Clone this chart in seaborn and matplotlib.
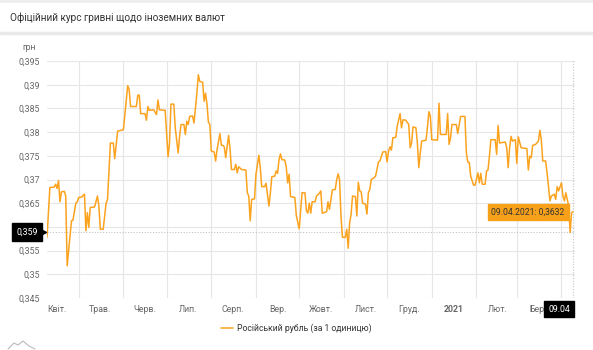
import matplotlib
matplotlib.use("Agg")
import matplotlib.pyplot as plt
import matplotlib.dates as mdates
from matplotlib.ticker import MultipleLocator, FuncFormatter
from matplotlib.lines import Line2D
import pandas as pd
import seaborn as sns

# ---------------- data ----------------
title = "Офіційний курс гривні щодо іноземних валют"
unit_label = "грн"
series_label = "Російський рубль (за 1 одиницю)"

dates = [
    "2020-04-09", "2020-04-11", "2020-04-14", "2020-04-15", "2020-04-16", "2020-04-17", "2020-04-18", "2020-04-19",
    "2020-04-21", "2020-04-22", "2020-04-23", "2020-04-26", "2020-04-27", "2020-04-29", "2020-04-30",
    "2020-05-01", "2020-05-03", "2020-05-05", "2020-05-06", "2020-05-07", "2020-05-08", "2020-05-09", "2020-05-12",
    "2020-05-14", "2020-05-15", "2020-05-16", "2020-05-18", "2020-05-20", "2020-05-21", "2020-05-23", "2020-05-25",
    "2020-05-26", "2020-05-28",
    "2020-06-01", "2020-06-04", "2020-06-05", "2020-06-06", "2020-06-10", "2020-06-11", "2020-06-12", "2020-06-13",
    "2020-06-16", "2020-06-17", "2020-06-18", "2020-06-19", "2020-06-22", "2020-06-24", "2020-06-25", "2020-06-26",
    "2020-06-30",
    "2020-07-02", "2020-07-03", "2020-07-04", "2020-07-06", "2020-07-07", "2020-07-09", "2020-07-10", "2020-07-11",
    "2020-07-13", "2020-07-14", "2020-07-15", "2020-07-16", "2020-07-17", "2020-07-19", "2020-07-20", "2020-07-22",
    "2020-07-23", "2020-07-24", "2020-07-26", "2020-07-27", "2020-07-28", "2020-07-29", "2020-07-30", "2020-07-31",
    "2020-08-01", "2020-08-03", "2020-08-04", "2020-08-05", "2020-08-07", "2020-08-08", "2020-08-09", "2020-08-10",
    "2020-08-11", "2020-08-13", "2020-08-14", "2020-08-15", "2020-08-17", "2020-08-18", "2020-08-19", "2020-08-20",
    "2020-08-22", "2020-08-25", "2020-08-26", "2020-08-27", "2020-08-28", "2020-08-29", "2020-08-31",
    "2020-09-01", "2020-09-03", "2020-09-04", "2020-09-05", "2020-09-07", "2020-09-08", "2020-09-10", "2020-09-11",
    "2020-09-12", "2020-09-14", "2020-09-15", "2020-09-16", "2020-09-17", "2020-09-18", "2020-09-19", "2020-09-21",
    "2020-09-22", "2020-09-23", "2020-09-24", "2020-09-25", "2020-09-28", "2020-09-29",
    "2020-10-01", "2020-10-02", "2020-10-03", "2020-10-05", "2020-10-06", "2020-10-07", "2020-10-08", "2020-10-09",
    "2020-10-10", "2020-10-12", "2020-10-13", "2020-10-15", "2020-10-16", "2020-10-17", "2020-10-20", "2020-10-21",
    "2020-10-22", "2020-10-24", "2020-10-26", "2020-10-27", "2020-10-28", "2020-10-29", "2020-10-30", "2020-10-31",
    "2020-11-02", "2020-11-03", "2020-11-04", "2020-11-05", "2020-11-06", "2020-11-07", "2020-11-09", "2020-11-10",
    "2020-11-11", "2020-11-12", "2020-11-13", "2020-11-14", "2020-11-16", "2020-11-17", "2020-11-18", "2020-11-19",
    "2020-11-20", "2020-11-22", "2020-11-23", "2020-11-25", "2020-11-26", "2020-11-28", "2020-11-30",
    "2020-12-01", "2020-12-02", "2020-12-03", "2020-12-04", "2020-12-05", "2020-12-07", "2020-12-08", "2020-12-10",
    "2020-12-11", "2020-12-12", "2020-12-14", "2020-12-16", "2020-12-17", "2020-12-18", "2020-12-19", "2020-12-21",
    "2020-12-22", "2020-12-23", "2020-12-24", "2020-12-25", "2020-12-28", "2020-12-29", "2020-12-30", "2020-12-31",
    "2021-01-01", "2021-01-05", "2021-01-06", "2021-01-07", "2021-01-11", "2021-01-12", "2021-01-13", "2021-01-14",
    "2021-01-15", "2021-01-18", "2021-01-19", "2021-01-21", "2021-01-24", "2021-01-25", "2021-01-26", "2021-01-27",
    "2021-01-28", "2021-01-30", "2021-01-31",
    "2021-02-02", "2021-02-03", "2021-02-04", "2021-02-05", "2021-02-07", "2021-02-08", "2021-02-09", "2021-02-10",
    "2021-02-11", "2021-02-14", "2021-02-15", "2021-02-16", "2021-02-17", "2021-02-21", "2021-02-22", "2021-02-23",
    "2021-02-24", "2021-02-25", "2021-02-26", "2021-02-28",
    "2021-03-01", "2021-03-02", "2021-03-04", "2021-03-08", "2021-03-09", "2021-03-10", "2021-03-11", "2021-03-12",
    "2021-03-14", "2021-03-16", "2021-03-17", "2021-03-18", "2021-03-19", "2021-03-21", "2021-03-22", "2021-03-24",
    "2021-03-25", "2021-03-27", "2021-03-28", "2021-03-29", "2021-03-30",
    "2021-04-01", "2021-04-02", "2021-04-03", "2021-04-04", "2021-04-05", "2021-04-06", "2021-04-07", "2021-04-08",
    "2021-04-09",
]

rates = [
    0.3578, 0.3683, 0.3684, 0.3690, 0.3681, 0.3698, 0.3653, 0.3674,
    0.3675, 0.3665, 0.3518, 0.3613, 0.3614, 0.3650, 0.3653,
    0.3662, 0.3663, 0.3669, 0.3592, 0.3630, 0.3599, 0.3641, 0.3642,
    0.3665, 0.3644, 0.3595, 0.3595, 0.3650, 0.3658, 0.3777, 0.3777,
    0.3744, 0.3802,
    0.3805, 0.3898, 0.3890, 0.3854, 0.3854, 0.3878, 0.3878, 0.3839,
    0.3839, 0.3825, 0.3854, 0.3846, 0.3847, 0.3837, 0.3868, 0.3847,
    0.3846,
    0.3748, 0.3777, 0.3859, 0.3859, 0.3809, 0.3756, 0.3791, 0.3816,
    0.3816, 0.3795, 0.3823, 0.3816, 0.3833, 0.3834, 0.3819, 0.3882,
    0.3921, 0.3907, 0.3905, 0.3865, 0.3882, 0.3860, 0.3821, 0.3816,
    0.3760, 0.3758, 0.3739, 0.3763, 0.3797, 0.3772, 0.3772, 0.3769,
    0.3746, 0.3793, 0.3765, 0.3721, 0.3721, 0.3732, 0.3714, 0.3727,
    0.3721, 0.3720, 0.3672, 0.3665, 0.3613, 0.3658, 0.3659,
    0.3711, 0.3751, 0.3725, 0.3685, 0.3685, 0.3692, 0.3644, 0.3672,
    0.3706, 0.3707, 0.3718, 0.3713, 0.3742, 0.3754, 0.3742, 0.3741,
    0.3727, 0.3693, 0.3711, 0.3664, 0.3662, 0.3624,
    0.3596, 0.3634, 0.3672, 0.3672, 0.3634, 0.3629, 0.3650, 0.3629,
    0.3653, 0.3653, 0.3665, 0.3671, 0.3676, 0.3629, 0.3632, 0.3653,
    0.3637, 0.3678, 0.3679, 0.3699, 0.3712, 0.3700, 0.3623, 0.3578,
    0.3578, 0.3595, 0.3555, 0.3609, 0.3626, 0.3665, 0.3664, 0.3623,
    0.3694, 0.3676, 0.3674, 0.3650, 0.3648, 0.3627, 0.3672, 0.3679,
    0.3700, 0.3704, 0.3707, 0.3737, 0.3739, 0.3758, 0.3759,
    0.3737, 0.3760, 0.3769, 0.3762, 0.3788, 0.3789, 0.3812, 0.3839,
    0.3809, 0.3826, 0.3825, 0.3816, 0.3767, 0.3777, 0.3811, 0.3809,
    0.3777, 0.3725, 0.3756, 0.3781, 0.3783, 0.3811, 0.3843, 0.3834,
    0.3784, 0.3783, 0.3861, 0.3795, 0.3795, 0.3839, 0.3774, 0.3788,
    0.3816, 0.3816, 0.3797, 0.3833, 0.3833, 0.3756, 0.3737, 0.3736,
    0.3707, 0.3688, 0.3688,
    0.3714, 0.3693, 0.3713, 0.3690, 0.3690, 0.3718, 0.3720, 0.3749,
    0.3784, 0.3784, 0.3753, 0.3814, 0.3777, 0.3779, 0.3767, 0.3725,
    0.3767, 0.3791, 0.3781, 0.3784,
    0.3734, 0.3790, 0.3767, 0.3765, 0.3720, 0.3749, 0.3746, 0.3772,
    0.3774, 0.3781, 0.3804, 0.3784, 0.3739, 0.3739, 0.3714, 0.3655,
    0.3665, 0.3669, 0.3658, 0.3685, 0.3676,
    0.3693, 0.3665, 0.3655, 0.3672, 0.3658, 0.3644, 0.3588, 0.3630,
    0.3632,
]

month_labels = ["Квіт.", "Трав.", "Черв.", "Лип.", "Серп.", "Вер.", "Жовт.",
                "Лист.", "Груд.", "2021", "Лют.", "Бер."]
month_label_dates = ["2020-04-16", "2020-05-16", "2020-06-16", "2020-07-16", "2020-08-16",
                     "2020-09-16", "2020-10-16", "2020-11-16", "2020-12-16", "2021-01-16",
                     "2021-02-16", "2021-03-16"]

hover_value = 0.359
hover_date = "2021-04-09"
tooltip_text = "09.04.2021: 0,3632"
hover_date_label = "09.04"
hover_value_label = "0,359"

assert len(dates) == len(rates)

# ---------------- style ----------------
sns.set_theme(style="white")
plt.rcParams["font.family"] = ["Roboto", "DejaVu Sans"]

LINE = "#FBA31F"
GRID = "#e6e6e6"
TXT = "#666666"

W, H = 593, 350
fig = plt.figure(figsize=(W / 100, H / 100), dpi=100)
fig.patch.set_facecolor("white")

ax = fig.add_axes([47 / W, 1 - 298 / H, (575 - 47) / W, (298 - 61) / H])

df = pd.DataFrame({"date": pd.to_datetime(dates), "rate": rates})
sns.lineplot(data=df, x="date", y="rate", ax=ax, color=LINE, linewidth=1.1,
             label=series_label)

ax.set_ylim(0.345, 0.395)
ax.set_xlim(pd.Timestamp("2020-04-09 00:00"), pd.Timestamp("2021-04-10 09:00"))


def y_fmt(v, p):
    # the tick under the crosshair value box is covered in the original
    if abs(v - hover_value) < 0.0015:
        return ""
    return f"{v:.3f}".rstrip("0").replace(".", ",")


ax.yaxis.set_major_locator(MultipleLocator(0.005))
ax.yaxis.set_major_formatter(FuncFormatter(y_fmt))

ax.xaxis.set_major_locator(mdates.MonthLocator(bymonthday=1))
ax.xaxis.set_major_formatter(FuncFormatter(lambda v, p: ""))
ax.set_xticks(pd.to_datetime(month_label_dates), labels=month_labels, minor=True)
for lab in ax.get_xticklabels(minor=True):
    if lab.get_text() == "2021":
        lab.set_fontweight("bold")
        lab.set_color("#222222")

ax.tick_params(axis="both", which="both", length=0, labelsize=6.3, colors=TXT)
ax.tick_params(axis="y", pad=5)
ax.tick_params(axis="x", which="minor", pad=5)
ax.grid(True, which="major", axis="both", color=GRID, linewidth=0.8)
ax.set_axisbelow(True)
for s in ax.spines.values():
    s.set_visible(False)
ax.set_xlabel("")
ax.set_ylabel("")

# crosshair
ax.axhline(hover_value, color="#c4c4c4", linestyle=(0, (1, 1.5)), linewidth=0.8, zorder=1)
ax.axvline(pd.Timestamp(hover_date), color="#c4c4c4", linestyle=(0, (1, 1.5)), linewidth=0.8, zorder=1)

# legend
handles, labels = ax.get_legend_handles_labels()
ax.get_legend().remove()
fig.legend(handles, labels, loc="center", bbox_to_anchor=(0.5, 1 - 328 / H),
           frameon=False, fontsize=6.2, handlelength=1.3, handletextpad=0.5,
           labelcolor="#333333")

# title, unit, separators
fig.text(10 / W, 1 - 18 / H, title, fontsize=7.2, color="#333333", va="center", ha="left")
fig.add_artist(Line2D([0, 1], [1 - 33 / H] * 2, transform=fig.transFigure,
                      color="#e9e9e9", linewidth=2.5))
fig.add_artist(Line2D([0, 1], [1 - 1 / H] * 2, transform=fig.transFigure,
                      color="#eeeeee", linewidth=2))
fig.text(22 / W, 1 - 48 / H, unit_label, fontsize=6.2, color=TXT, va="center", ha="left")

# hover labels
fig.text(27 / W, 1 - 232 / H, hover_value_label, fontsize=6.3, color="white",
         ha="center", va="center",
         bbox=dict(boxstyle="square,pad=0.5", fc="black", ec="black"))
fig.add_artist(Line2D([44 / W], [1 - 232 / H], transform=fig.transFigure,
                      marker=">", markersize=3, color="black", linestyle="none"))
fig.text(559 / W, 1 - 309 / H, hover_date_label, fontsize=6.3, color="white",
         ha="center", va="center",
         bbox=dict(boxstyle="square,pad=0.45", fc="black", ec="black"))
fig.text(528 / W, 1 - 212 / H, tooltip_text, fontsize=6.2, color="#333333",
         ha="center", va="center",
         bbox=dict(boxstyle="square,pad=0.45", fc="#F7A01A", ec="#F7A01A"))

# small decorative mountain icon bottom-left
fig.add_artist(Line2D([8 / W, 14 / W, 18 / W, 23 / W, 29 / W, 35 / W],
                      [1 - 349 / H, 1 - 343 / H, 1 - 345 / H, 1 - 341 / H, 1 - 346 / H, 1 - 349 / H],
                      transform=fig.transFigure, color="#bbbbbb", linewidth=0.8))

fig.savefig("out.png", dpi=100, facecolor="white")
